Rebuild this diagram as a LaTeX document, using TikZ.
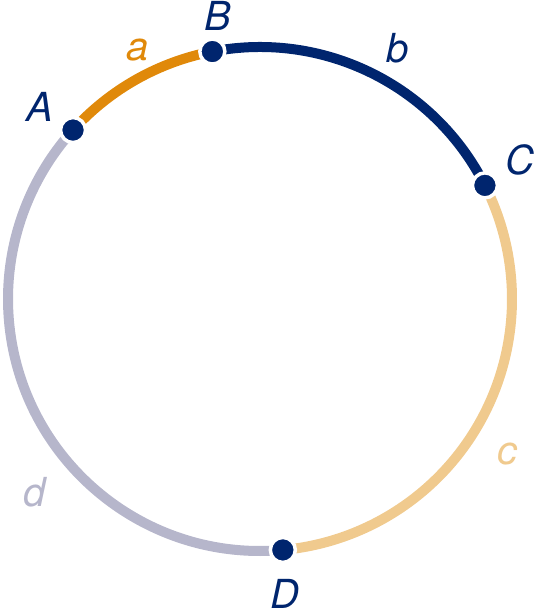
\documentclass[tikz,border=0pt]{standalone}
\usepackage{xcolor}
\usepackage{fontspec}
\setmainfont{TeX Gyre Heros}
\usetikzlibrary{positioning}
\definecolor{ringnavy}{RGB}{0,37,110}
\definecolor{arcorange}{RGB}{224,137,10}
\definecolor{arcsand}{RGB}{240,202,142}
\definecolor{arcgrey}{RGB}{182,182,203}

\tikzset{
  ringarc/.style={line width=10pt},
  pointdot/.style={circle, fill=ringnavy, draw=white, line width=3.5pt, minimum size=25pt, inner sep=0pt},
  ringlabel/.style={inner sep=0pt, font=\fontsize{40}{48}\selectfont\itshape}
}

\begin{document}
\begin{tikzpicture}[x=1pt, y=1pt]
\useasboundingbox (0,0) rectangle (534,612);
\coordinate (O) at (260,313);
% arcs of the ring
\draw[ringarc, color=arcgrey] ([shift={(-84.8:252)}]O) arc[start angle=-84.8, end angle=-222.1, radius=252];
\draw[ringarc, color=arcsand] ([shift={(26.8:252)}]O) arc[start angle=26.8, end angle=-84.8, radius=252];
\draw[ringarc, color=ringnavy] ([shift={(100.9:252)}]O) arc[start angle=100.9, end angle=26.8, radius=252];
\draw[ringarc, color=arcorange] ([shift={(137.9:252)}]O) arc[start angle=137.9, end angle=100.9, radius=252];
% points
\node[pointdot] (A) at ([shift={(137.9:252)}]O) {};
\node[pointdot] (B) at ([shift={(100.9:252)}]O) {};
\node[pointdot] (C) at ([shift={(26.8:252)}]O) {};
\node[pointdot] (D) at ([shift={(-84.8:252)}]O) {};
% labels
\node[ringlabel, text=ringnavy] (labA) at (40,505) {A};
\node[ringlabel, text=ringnavy] (labB) at (218,596) {B};
\node[ringlabel, text=ringnavy] (labC) at (520,452) {C};
\node[ringlabel, text=ringnavy] (labD) at (285,18) {D};
\node[ringlabel, text=arcorange] (laba) at (138,562) {a};
\node[ringlabel, text=ringnavy] (labb) at (398,564) {b};
\node[ringlabel, text=arcsand] (labc) at (507,158) {c};
\node[ringlabel, text=arcgrey] (labd) at (35,120) {d};
\end{tikzpicture}
\end{document}
